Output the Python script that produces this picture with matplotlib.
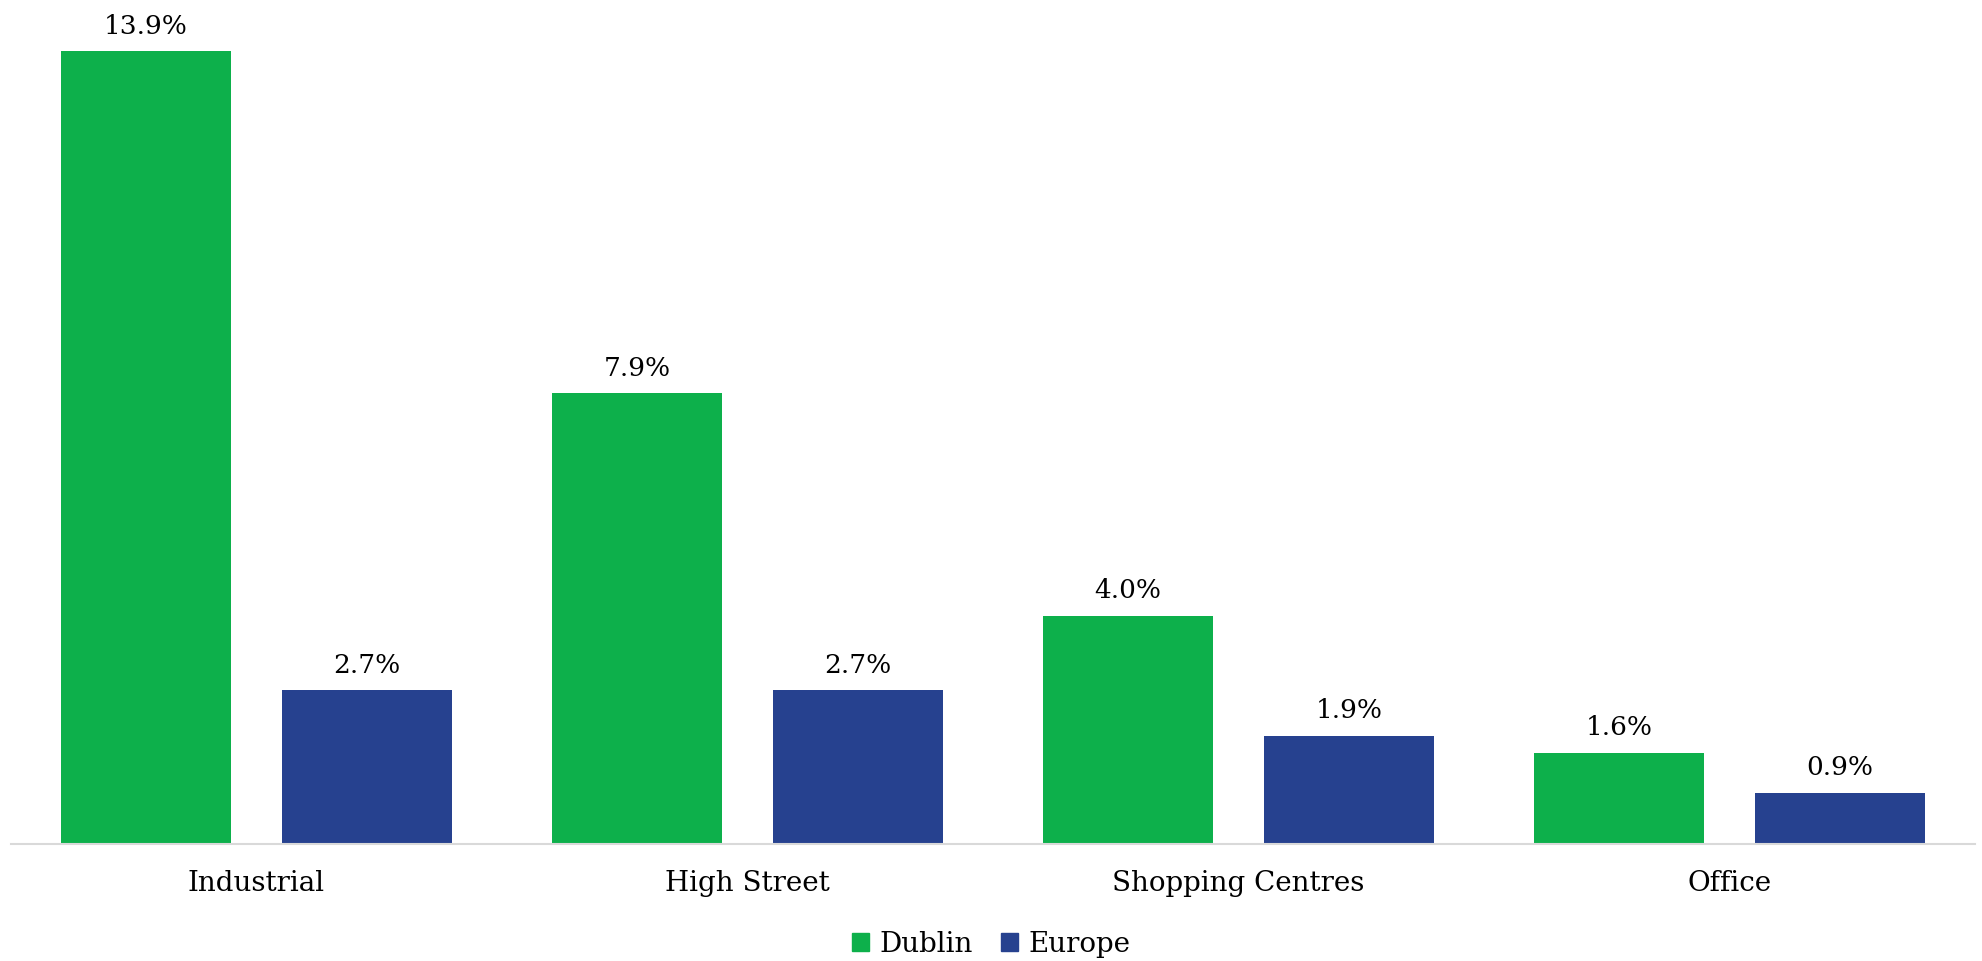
import numpy as np
import matplotlib.pyplot as plt
from matplotlib.patches import Patch

# sector returns, Dublin vs Europe
categories = ['Industrial', 'High Street', 'Shopping Centres', 'Office']
dublin = [13.9, 7.9, 4.0, 1.6]
europe = [2.7, 2.7, 1.9, 0.9]

green = '#0DB04B'
blue = '#26418F'
font = ['DejaVu Serif']

fig = plt.figure(figsize=(19.83, 9.61), dpi=100)
ax = fig.add_axes([11 / 1983, 117 / 961, 1964 / 1983, 844 / 961])

x = np.arange(len(categories))
w = 0.346
off = 0.225
b1 = ax.bar(x - off, dublin, w, color=green)
b2 = ax.bar(x + off, europe, w, color=blue)

for bars, vals in [(b1, dublin), (b2, europe)]:
    for b, v in zip(bars, vals):
        ax.annotate(f'{v:.1f}%', (b.get_x() + b.get_width() / 2, v),
                    xytext=(0, 9), textcoords='offset points',
                    ha='center', va='bottom', fontsize=19, family=font)

ax.set_xlim(-0.5, len(categories) - 0.5)
ax.set_ylim(0, 14.8)
ax.set_xticks(x)
ax.set_xticklabels(categories, fontsize=20, family=font)
ax.tick_params(axis='x', length=0, pad=19)
ax.set_yticks([])
for s in ['top', 'right', 'left']:
    ax.spines[s].set_visible(False)
ax.spines['bottom'].set_color('#D9D9D9')
ax.spines['bottom'].set_linewidth(1.5)

handles = [Patch(color=green, label='Dublin'), Patch(color=blue, label='Europe')]
fig.legend(handles=handles, loc='center', bbox_to_anchor=(0.5, 17 / 961),
           ncol=2, frameon=False, prop={'family': font, 'size': 20},
           handlelength=0.6, handleheight=0.6, handletextpad=0.4,
           columnspacing=1.0)

fig.savefig('out.png', dpi=100)
